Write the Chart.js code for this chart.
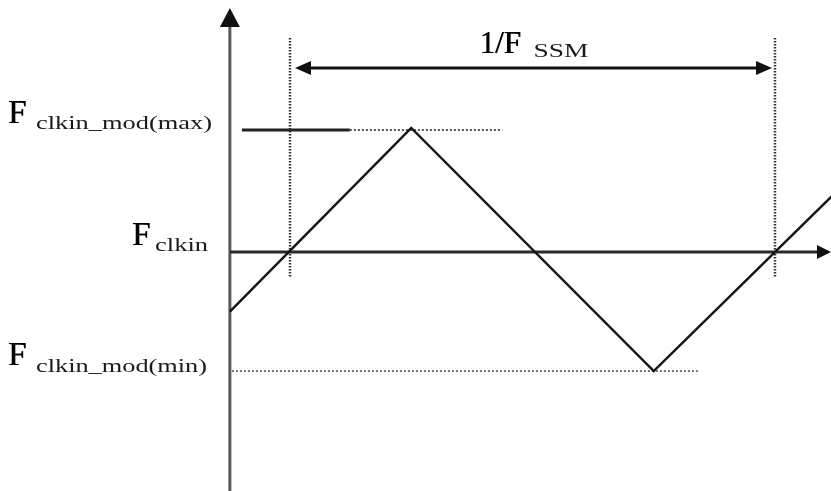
<!DOCTYPE html>
<html>
<head>
<meta charset="utf-8">
<script src="https://cdn.jsdelivr.net/npm/chart.js@4/dist/chart.umd.min.js"></script>
<style>
  html, body { margin: 0; padding: 0; background: #fff; }
  #wrap { width: 831px; height: 491px; }
</style>
</head>
<body>
<div id="wrap"><canvas id="myChart" width="831" height="491"></canvas></div>
<script>
'use strict';

// time in SSM periods (0 and 1 = where the wave crosses F_clkin), frequency relative to F_clkin
var waveTime = [-0.124, 0.25, 0.75, 1.25];
var waveFreq = [-0.48, 1.0, -0.96, 0.96];

var levelNames = ['clkin_mod(max)', 'clkin', 'clkin_mod(min)'];
var levelFreq = [1.0, 0, -0.96];

var periodMarks = [0, 1];
var periodLabel = ['1/F', 'SSM'];

var timeRange = [-0.598, 1.1155];
var freqRange = [-1.927, 2.032];

var SERIF = '"Liberation Serif", "Times New Roman", serif';

function arrowHead(c, x, y, dx, dy, len, half) {
    c.beginPath();
    c.moveTo(x, y);
    c.lineTo(x - dx * len - dy * half, y - dy * len + dx * half);
    c.lineTo(x - dx * len + dy * half, y - dy * len - dx * half);
    c.closePath();
    c.fill();
}

function line(c, x1, y1, x2, y2, color, width, dash) {
    c.save();
    c.strokeStyle = color;
    c.lineWidth = width;
    c.setLineDash(dash || []);
    c.beginPath();
    c.moveTo(x1, y1);
    c.lineTo(x2, y2);
    c.stroke();
    c.restore();
}

// big letter with a stretched subscript after it
function subLabel(c, x, base, main, sub, subX, subW, subBase, mainSize, subSize) {
    c.save();
    c.fillStyle = '#000';
    c.textBaseline = 'alphabetic';
    c.font = mainSize + 'px ' + SERIF;
    c.fillText(main, x, base);
    c.fillText(main, x + 0.6, base);
    c.font = subSize + 'px ' + SERIF;
    var sw = c.measureText(sub).width;
    c.translate(subX, subBase);
    c.scale(subW / sw, 1);
    c.fillStyle = '#1a1a1a';
    c.fillText(sub, 0, 0);
    c.restore();
}

var diagram = {
    id: 'diagram',
    beforeDatasetsDraw: function(chart) {
        var c = chart.ctx;
        var xs = chart.scales.x, ys = chart.scales.y;
        var axisX = xs.getPixelForValue(waveTime[0]);
        var axisY = ys.getPixelForValue(levelFreq[1]);
        var maxY = ys.getPixelForValue(levelFreq[0]);
        var minY = ys.getPixelForValue(levelFreq[2]);
        var peakX = xs.getPixelForValue(waveTime[1]);
        var troughX = xs.getPixelForValue(waveTime[2]);
        var p0 = xs.getPixelForValue(periodMarks[0]);
        var p1 = xs.getPixelForValue(periodMarks[1]);
        var arrowY = axisY - 184;

        // frequency axis
        line(c, axisX, chart.height, axisX, 26, '#5a5a5a', 3);
        c.fillStyle = '#111';
        arrowHead(c, axisX, 8, 0, -1, 19, 10);

        // time axis
        line(c, axisX, axisY, chart.width - 14, axisY, '#2a2a2a', 3);
        c.fillStyle = '#111';
        arrowHead(c, chart.width, axisY, 1, 0, 14, 7);

        // max level
        line(c, axisX + 12, maxY + 2, axisX + 120, maxY + 2, '#222', 3);
        line(c, axisX + 120, maxY + 2, peakX + 91, maxY + 2, '#555', 2, [2, 2]);

        // min level
        line(c, axisX + 2, minY, troughX + 44, minY, '#444', 1.5, [2, 2]);

        // period markers
        periodMarks.forEach(function(t) {
            var px = xs.getPixelForValue(t);
            line(c, px, arrowY - 30, px, axisY + 26, '#333', 2.5, [1.5, 1.5]);
        });

        // period arrow
        line(c, p0 + 15, arrowY, p1 - 15, arrowY, '#111', 3);
        c.fillStyle = '#111';
        arrowHead(c, p0 + 5, arrowY, -1, 0, 16, 7);
        arrowHead(c, p1 - 3, arrowY, 1, 0, 16, 7);
    },
    afterDatasetsDraw: function(chart) {
        var c = chart.ctx;
        var xs = chart.scales.x, ys = chart.scales.y;
        var maxY = ys.getPixelForValue(levelFreq[0]);
        var midY = ys.getPixelForValue(levelFreq[1]);
        var minY = ys.getPixelForValue(levelFreq[2]);
        var p0 = xs.getPixelForValue(periodMarks[0]);
        var p1 = xs.getPixelForValue(periodMarks[1]);
        var mid = (p0 + p1) / 2;
        var arrowY = midY - 184;

        subLabel(c, 8, maxY - 5, 'F', levelNames[0], 36, 176, maxY + 1, 33, 19);
        subLabel(c, 132, midY - 7, 'F', levelNames[1], 155, 53, midY - 1, 33, 19);
        subLabel(c, 8, minY - 6, 'F', levelNames[2], 36, 171, minY + 1, 33, 19);

        subLabel(c, mid - 53, arrowY - 15, periodLabel[0], periodLabel[1], mid + 1, 55, arrowY - 11, 31, 19);
    }
};

var ctx = document.getElementById('myChart').getContext('2d');
var myChart = new Chart(ctx, {
    type: 'line',
    data: {
        datasets: [{
            data: waveTime.map(function(t, i) { return { x: t, y: waveFreq[i] }; }),
            borderColor: '#151515',
            borderWidth: 2.5,
            pointRadius: 0,
            tension: 0,
            fill: false
        }]
    },
    options: {
        responsive: false,
        animation: false,
        events: [],
        layout: { padding: 0 },
        plugins: { legend: { display: false }, tooltip: { enabled: false } },
        scales: {
            x: { type: 'linear', display: false, min: timeRange[0], max: timeRange[1] },
            y: { type: 'linear', display: false, min: freqRange[0], max: freqRange[1] }
        }
    },
    plugins: [diagram]
});
</script>
</body>
</html>
